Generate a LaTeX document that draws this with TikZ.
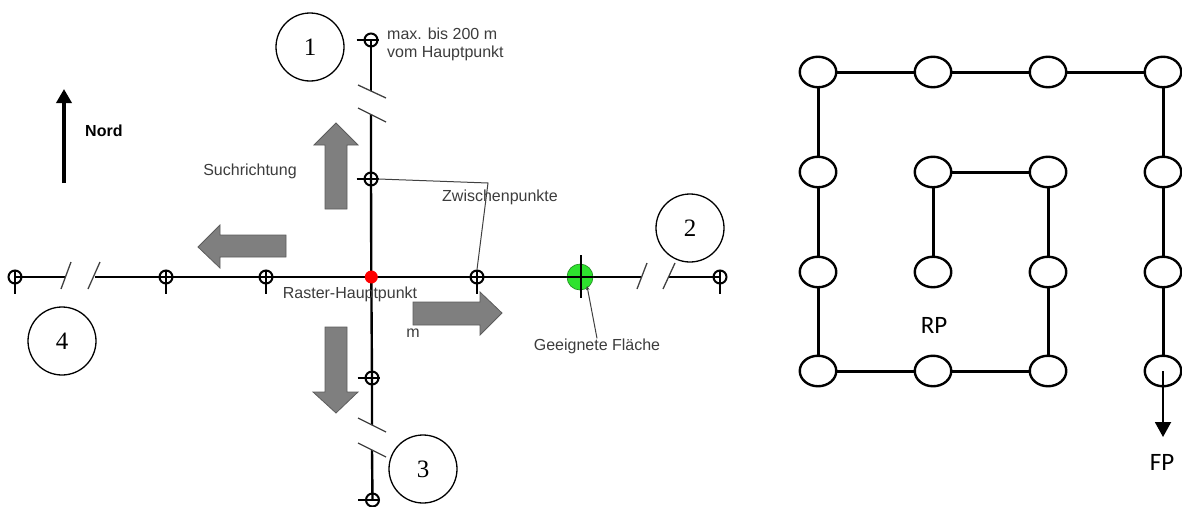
\documentclass[tikz,border=0pt]{standalone}
\usepackage{fontspec}
\setmainfont{Liberation Sans}
\newfontfamily\digitfont{Liberation Serif}
\newfontfamily\pathfont{Carlito}
\usetikzlibrary{shapes.geometric,arrows.meta}

\definecolor{labelgray}{HTML}{3C3C3C}
\definecolor{arrowfill}{HTML}{7F7F7F}
\definecolor{arrowedge}{HTML}{5C5C5C}
\definecolor{sitegreen}{HTML}{2EE22E}
\definecolor{sitedark}{HTML}{1E8A1E}

\tikzset{
  lbl/.style={font=\fontsize{16}{18}\selectfont, text=labelgray, inner sep=0pt},
  zone/.style={circle, draw, line width=1.3pt, minimum size=68pt, inner sep=0pt,
               font=\digitfont\fontsize{25}{25}\selectfont},
  blockarrow/.style={fill=arrowfill, draw=arrowedge, line width=0.8pt},
  mainline/.style={line width=2.4pt},
  brk/.style={line width=1.3pt, draw=black!75},
  marker/.style={circle, draw, line width=2pt, minimum size=13pt, inner sep=0pt},
  tick/.style={line width=1.3pt},
  lead/.style={line width=1pt, draw=black!75},
  wp/.style={ellipse, draw, line width=2.4pt, minimum width=36.5pt,
             minimum height=30.5pt, inner sep=0pt},
  route/.style={line width=3pt},
  pathlbl/.style={font=\pathfont\fontsize{25}{25}\selectfont, inner sep=0pt}
}

\begin{document}
\begin{tikzpicture}[x=1pt, y=-1pt]
\useasboundingbox (0,0) rectangle (1182,506);

% ---------- search cross around the grid main point ----------
% points on the west-east axis
\node[marker] (w4) at (15,277) {};
\node[marker] (w2) at (166,277) {};
\node[marker] (w1) at (266,277) {};
\node[marker] (e1) at (477,277) {};
\node[marker] (e4) at (720,277) {};
% points on the north-south axis
\node[marker] (n4) at (371,40) {};
\node[marker] (n1) at (371,179) {};
\node[marker] (s1) at (372,378) {};
\node[marker] (s4) at (372.5,500) {};

% interruptions of the axes
\coordinate (wbA) at (66,277);   \coordinate (wbB) at (95,277);
\coordinate (ebA) at (642,277);  \coordinate (ebB) at (669,277);
\coordinate (nbA) at (371,91);   \coordinate (nbB) at (371,114);
\coordinate (sbA) at (372,425);  \coordinate (sbB) at (372,450);

\coordinate (hpc) at (371.3,277);

\draw[mainline] (w4.center) -- (wbA);
\draw[mainline] (wbB) -- (e1.center) -- (ebA);
\draw[mainline] (ebB) -- (e4.center);
\draw[mainline] (n4.center) -- (nbA);
\draw[mainline] (nbB) -- (n1.center) -- (hpc) -- (s1.center) -- (sbA);
\draw[mainline] (sbB) -- (s4.center);

% break marks
\draw[brk] (61,289) -- (71,262);
\draw[brk] (88,289) -- (100,262);
\draw[brk] (637,289) -- (647,263);
\draw[brk] (663,289) -- (675,263);
\draw[brk] (358,85) -- (386,98);
\draw[brk] (358,108) -- (386,122);
\draw[brk] (358,418) -- (386,432);
\draw[brk] (358,443) -- (386,457);

% cross ticks of the points
\foreach \p in {w4,w2,w1,e1,e4}{
  \draw[tick] (\p.north) -- ([yshift=-9pt]\p.south);
}
\foreach \p in {n4,n1,s1,s4}{
  \draw[tick] ([xshift=-7pt]\p.west) -- (\p.east);
}

% suitable area
\node[circle, fill=sitegreen, draw=sitedark, line width=0.6pt,
      minimum size=26pt, inner sep=0pt] (site) at (580,277) {};
\coordinate (siteT) at (581,255);
\coordinate (siteB) at (581,298);
\draw[tick] (siteT) -- (siteB);
\draw[line width=1.4pt] (site.west) -- (site.east);

% grid main point
\node[circle, fill=red, minimum size=13pt, inner sep=0pt] (hp) at (hpc) {};

% numbered sectors
\node[zone] (z1) at (310,47) {1};
\node[zone] (z2) at (690,228) {2};
\node[zone] (z3) at (423,469) {3};
\node[zone] (z4) at (62,341) {4};

% search direction arrows
\draw[blockarrow] (325,209) -- (325,145) -- (314,145) -- (336,123) -- (358,145)
  -- (347,145) -- (347,209) -- cycle;
\draw[blockarrow] (325,327) -- (325,392) -- (313,392) -- (336,413) -- (358,392)
  -- (347,392) -- (347,327) -- cycle;
\draw[blockarrow] (286,235) -- (220,235) -- (220,225) -- (198,247) -- (220,268)
  -- (220,257) -- (286,257) -- cycle;
\draw[blockarrow] (413,302) -- (480,302) -- (480,292) -- (502,313) -- (480,335)
  -- (480,325) -- (413,325) -- cycle;

% north arrow
\coordinate (nordS) at (64,183);
\coordinate (nordN) at (64,89);
\draw[line width=3.5pt, -{Triangle[length=14pt,width=15pt]}] (nordS) -- (nordN);
\node[lbl, font=\bfseries\fontsize{16}{18}\selectfont, text=black, anchor=west]
  (nord) at (85,131) {Nord};

% labels
\node[lbl, anchor=west, align=left] (maxlbl) at (387,44)
  {max. bis 200 m\\vom Hauptpunkt};
\node[lbl] (such) at (250,171) {Suchrichtung};
\node[lbl] (zwlbl) at (500,197) {Zwischenpunkte};
\node[lbl] (hplbl) at (350,294) {Raster-Hauptpunkt};
\node[lbl] (mlbl) at (413,333) {m};
\node[lbl] (gflbl) at (597,346) {Geeignete Fläche};

% leaders
\coordinate (zwk) at (488,183);
\draw[lead] (n1.east) -- (zwk) -- (e1.north);
\coordinate (gfp) at (587,286);
\draw[lead, {Stealth[length=4pt,width=3.5pt]}-] (gfp) -- (gflbl.north);

% ---------- spiral search route ----------
\foreach \r/\y in {1/72,2/172,3/272,4/371}{
  \foreach \c/\x in {1/818,2/933,3/1048,4/1163}{
    \node[wp] (r\r\c) at (\x,\y) {};
  }
}
\draw[route] (r32) -- (r22) -- (r23) -- (r33) -- (r43) -- (r42) -- (r41)
  -- (r31) -- (r21) -- (r11) -- (r12) -- (r13) -- (r14) -- (r24) -- (r34) -- (r44);
\coordinate (fpend) at (1163,437);
\draw[line width=2pt, -{Triangle[length=15pt,width=16pt]}] (r44.center) -- (fpend);

\node[pathlbl] (rp) at (934,325) {RP};
\node[pathlbl] (fp) at (1162,462) {FP};
\end{tikzpicture}
\end{document}
